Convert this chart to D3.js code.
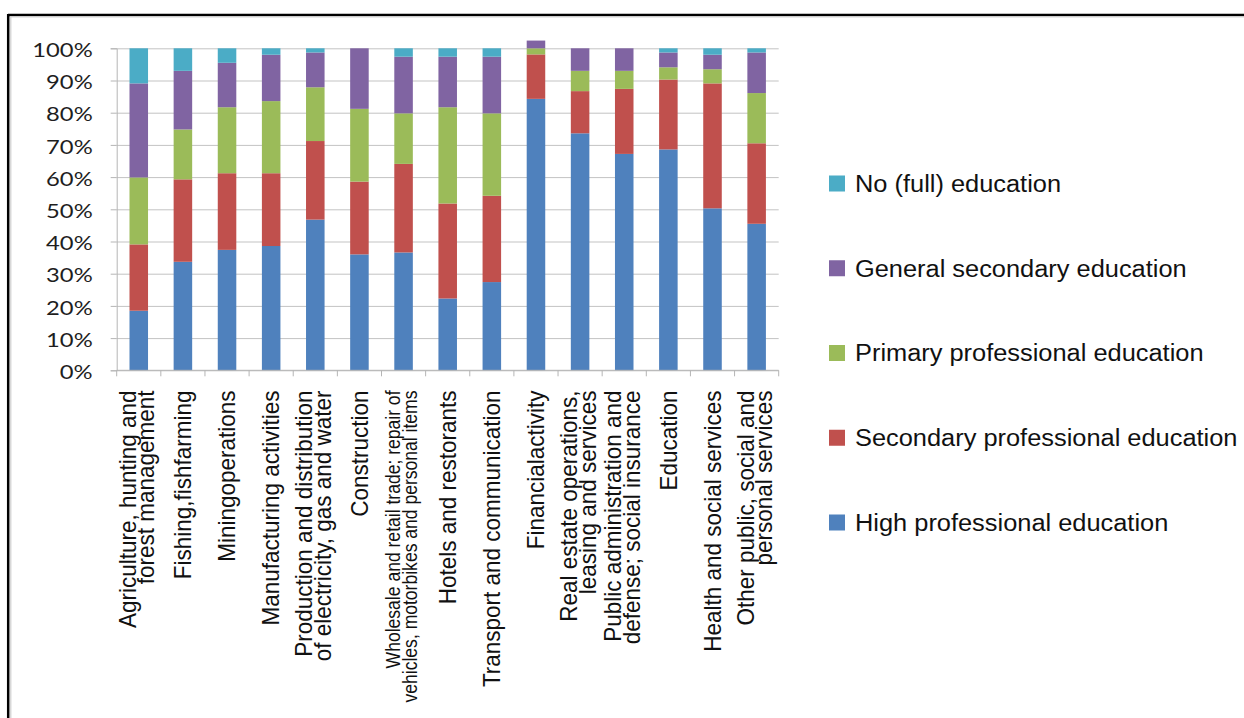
<!DOCTYPE html>
<html>
<head>
<meta charset="utf-8">
<script src="https://cdn.jsdelivr.net/npm/d3@7/dist/d3.min.js"></script>
<style>
  html, body { margin: 0; padding: 0; background: #ffffff; }
  svg { display: block; }
</style>
</head>
<body>
<script>
// Industry categories (each entry = the lines of its axis label)
const categoryLines = [
  ["Agriculture,  hunting and", "forest management"],
  ["Fishing,fishfarming"],
  ["Miningoperations"],
  ["Manufacturing activities"],
  ["Production and distribution", "of electricity, gas and water"],
  ["Construction"],
  ["Wholesale and retail trade; repair of", "vehicles, motorbikes and personal items"],
  ["Hotels and restorants"],
  ["Transport and communication"],
  ["Financialactivity"],
  ["Real estate operations,", "leasing and services"],
  ["Public administration and", "defense; social insurance"],
  ["Education"],
  ["Health and social services"],
  ["Other public, social and", "personal services"]
];
const categories = categoryLines.map(l => l.join(" "));

// Share of workers by education level, % (bottom to top of each bar)
const highProfessional      = [18.5, 33.7, 37.4, 38.6, 46.8, 36.0, 36.6, 22.3, 27.4, 84.3, 73.6, 67.2, 68.6, 50.3, 45.5];
const secondaryProfessional = [20.6, 25.6, 23.8, 22.6, 24.4, 22.6, 27.5, 29.5, 26.8, 13.8, 13.1, 20.2, 21.7, 38.8, 25.0];
const primaryProfessional   = [20.8, 15.5, 20.5, 22.4, 16.7, 22.6, 15.7, 29.9, 25.6,  1.9,  6.3,  5.6,  3.8,  4.4, 15.6];
const generalSecondary      = [29.2, 18.2, 13.8, 14.4, 10.8, 18.8, 17.6, 15.7, 17.6,  2.4,  7.0,  7.0,  4.6,  4.5, 12.6];
const noFullEducation       = [10.9,  7.0,  4.5,  2.0,  1.3,  0.0,  2.6,  2.6,  2.6,  0.0,  0.0,  0.0,  1.3,  2.0,  1.3];

const seriesNames = [
  "High professional education",
  "Secondary professional education",
  "Primary professional education",
  "General secondary education",
  "No (full) education"
];
const seriesValues = [highProfessional, secondaryProfessional, primaryProfessional, generalSecondary, noFullEducation];
const seriesColors = ["#4F81BD", "#C0504D", "#9BBB59", "#8064A2", "#4BACC6"];

const yTickValues = [0, 10, 20, 30, 40, 50, 60, 70, 80, 90, 100];

// ---- layout ----
const W = 1244, H = 718;
const plot = { left: 116.7, right: 778.7, top: 48.3, bottom: 370.3 };

const svg = d3.select("body").append("svg").attr("width", W).attr("height", H);

// frame
svg.append("line").attr("x1", 8).attr("x2", W).attr("y1", 15).attr("y2", 15)
  .attr("stroke", "#000").attr("stroke-width", 2.5);
svg.append("line").attr("x1", 8.2).attr("x2", 8.2).attr("y1", 14).attr("y2", H)
  .attr("stroke", "#000").attr("stroke-width", 2.5);
svg.append("line").attr("x1", 10).attr("x2", W).attr("y1", 17).attr("y2", 17)
  .attr("stroke", "#d6d6d6").attr("stroke-width", 1);
svg.append("line").attr("x1", 10.8).attr("x2", 10.8).attr("y1", 17).attr("y2", H)
  .attr("stroke", "#cfcfcf").attr("stroke-width", 1.2);

const x = d3.scaleBand().domain(categories).range([plot.left, plot.right])
  .paddingInner(0.58).paddingOuter(0.29);
const y = d3.scaleLinear().domain([0, 100]).range([plot.bottom, plot.top]);

// gridlines
const grid = svg.append("g").attr("transform", `translate(${plot.left},0)`)
  .call(d3.axisLeft(y).tickValues(yTickValues).tickSize(-(plot.right - plot.left)).tickFormat(""));
grid.select(".domain").remove();
grid.selectAll("line").attr("stroke", "#c3c3c3").attr("stroke-width", 1);

// y axis
const yAxis = svg.append("g").attr("transform", `translate(${plot.left},0)`)
  .call(d3.axisLeft(y).tickValues(yTickValues).tickSize(6).tickFormat(d => d + "%"));
yAxis.select(".domain").attr("stroke", "#b5b5b5");
yAxis.selectAll("line").attr("stroke", "#b5b5b5");
yAxis.selectAll("text")
  .attr("font-family", "Lato, 'Open Sans', sans-serif")
  .attr("font-size", 19.5)
  .attr("fill", "#1e1e1e")
  .attr("x", -24 / 1.22)
  .attr("dy", "0.42em")
  .attr("transform", "scale(1.22,1)");

// stacked bars
const rows = categories.map((c, i) => {
  const r = { category: c };
  seriesNames.forEach((s, k) => { r[s] = seriesValues[k][i]; });
  return r;
});
const stacked = d3.stack().keys(seriesNames)(rows);

svg.append("g").selectAll("g").data(stacked).join("g")
  .attr("fill", (d, k) => seriesColors[k])
  .selectAll("rect").data(d => d).join("rect")
  .attr("x", d => x(d.data.category))
  .attr("width", x.bandwidth())
  .attr("y", d => y(d[1]))
  .attr("height", d => y(d[0]) - y(d[1]));

// x axis line and boundary ticks
const xAxisG = svg.append("g");
xAxisG.append("line").attr("x1", plot.left).attr("x2", plot.right)
  .attr("y1", y(0)).attr("y2", y(0)).attr("stroke", "#b5b5b5");
xAxisG.selectAll("line.tick").data(d3.range(categories.length + 1)).join("line")
  .attr("class", "tick")
  .attr("x1", i => plot.left + i * x.step()).attr("x2", i => plot.left + i * x.step())
  .attr("y1", y(0)).attr("y2", y(0) + 6).attr("stroke", "#b5b5b5");

// rotated category labels
const labelTop = 390.5;
const baseFont = 22.5;
const hStretch = 1.04;
const maxLabelLen = 312;
categoryLines.forEach((lines, i) => {
  const cx = x(categories[i]) + x.bandwidth() / 2;
  const g = svg.append("g")
    .attr("transform", `translate(${cx},${labelTop}) scale(${hStretch},1) rotate(-90)`);
  const texts = lines.map(line => g.append("text")
    .attr("text-anchor", "end")
    .attr("font-family", "'Liberation Sans', Arial, sans-serif")
    .attr("font-size", baseFont)
    .attr("fill", "#111")
    .text(line));
  const n = lines.length;
  const shift = n > 1 ? -2 / hStretch : 0;
  // overly long labels are set a little smaller and condensed to fit below the axis
  let fs = baseFont;
  let longest = d3.max(texts, t => t.node().getComputedTextLength());
  const condensed = longest > maxLabelLen;
  if (condensed) {
    fs = 19.5;
    texts.forEach(t => t.attr("font-size", fs));
    longest = d3.max(texts, t => t.node().getComputedTextLength());
    const ratio = maxLabelLen / longest;
    texts.forEach(t => {
      const len = t.node().getComputedTextLength();
      t.attr("textLength", len * ratio).attr("lengthAdjust", "spacingAndGlyphs");
    });
  }
  const step = (condensed ? 17 : 18.6) / hStretch;
  texts.forEach((t, j) => {
    t.attr("x", 0)
      .attr("y", shift + (j - (n - 1) / 2) * step)
      .attr("dy", "0.35em");
  });
});

// legend (top entry = top of stack)
const legendOrder = d3.range(seriesNames.length).reverse();
const legend = svg.append("g");
legendOrder.forEach((k, r) => {
  const cy = 183.5 + r * 84.75;
  legend.append("rect").attr("x", 829).attr("y", cy - 8).attr("width", 16).attr("height", 16)
    .attr("fill", seriesColors[k]);
  legend.append("text")
    .attr("transform", `translate(855,${cy + 8.3}) scale(1.09,1)`)
    .attr("font-family", "'Liberation Sans', Arial, sans-serif")
    .attr("font-size", 23.3)
    .attr("fill", "#111")
    .text(seriesNames[k]);
});
</script>
</body>
</html>
